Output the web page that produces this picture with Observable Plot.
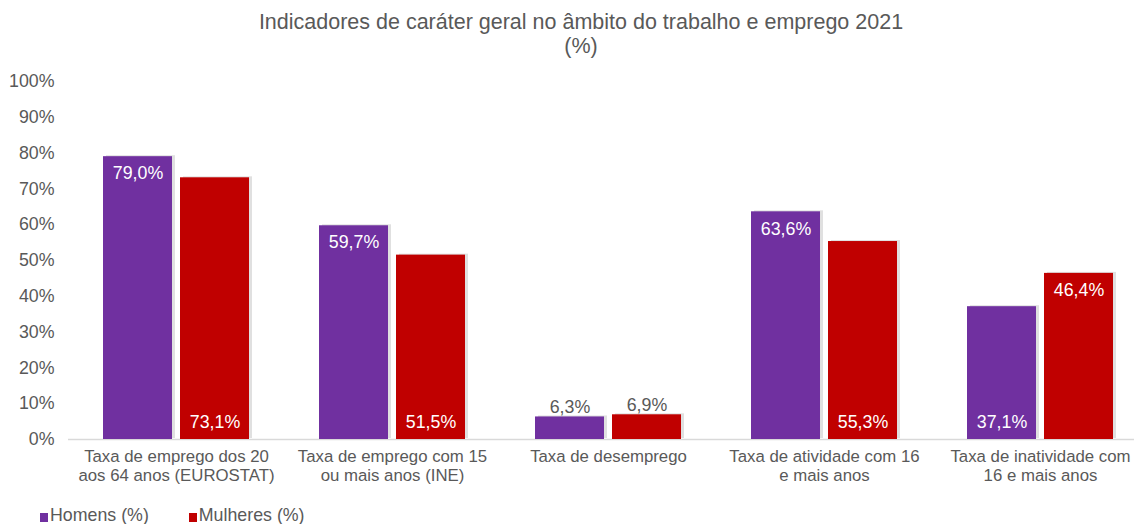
<!DOCTYPE html>
<html><head><meta charset="utf-8">
<script src="https://cdn.jsdelivr.net/npm/d3@7"></script>
<script src="https://cdn.jsdelivr.net/npm/@observablehq/plot@0.6"></script>
<style>
body{margin:0;background:#fff;font-family:"Liberation Sans",Arial,sans-serif;}
#wrap{position:relative;width:1134px;height:524px;overflow:hidden;background:#fff}
#title{height:62px;box-sizing:border-box;padding-top:10px;padding-left:28px;text-align:center;color:#595959;font-size:21.5px;line-height:24px}
#chart{height:440px}
#legend{height:22px;box-sizing:border-box;padding-left:40px;font-size:17.8px;line-height:26px;color:#595959;white-space:nowrap}
.item{display:inline-block;margin-right:40px}
.sw{display:inline-block;width:8px;height:9px;margin-right:2px;vertical-align:-1px}
</style>
</head><body>
<div id="wrap">
  <div id="title">Indicadores de caráter geral no âmbito do trabalho e emprego 2021<br>(%)</div>
  <div id="chart"></div>
  <div id="legend"></div>
</div>
<script>
const categories = [
  "Taxa de emprego dos 20\naos 64 anos (EUROSTAT)",
  "Taxa de emprego com 15\nou mais anos (INE)",
  "Taxa de desemprego",
  "Taxa de atividade com 16\ne mais anos",
  "Taxa de inatividade com\n16 e mais anos"
];
const series = ["Homens (%)", "Mulheres (%)"];
const homens = [79.0, 59.7, 6.3, 63.6, 37.1];
const mulheres = [73.1, 51.5, 6.9, 55.3, 46.4];
const yTicks = [0, 10, 20, 30, 40, 50, 60, 70, 80, 90, 100];
const colors = ["#7030A0", "#C00000"];

const rows = [];
categories.forEach((c, i) => {
  const vals = [homens[i], mulheres[i]];
  const maxV = Math.max(...vals);
  vals.forEach((v, j) => {
    rows.push({cat: c, serie: series[j], value: v,
      pos: v < 10 ? "above" : (v === maxV ? "top" : "base")});
  });
});
const fmt = d => d3.format(".1f")(d.value).replace(".", ",") + "%";

const font = '"Liberation Sans",Arial,sans-serif';
const fs = 17.8;
const catFs = 16.8;
const chart = Plot.plot({
  width: 1134,
  height: 440,
  marginLeft: 68,
  marginRight: -14,
  marginTop: 19,
  marginBottom: 63,
  style: {fontFamily: font, fontSize: fs + "px", color: "#595959", background: "transparent"},
  fx: {domain: categories, padding: 0, axis: null},
  x: {domain: series, paddingInner: 0.104, paddingOuter: 0.4545, axis: null},
  y: {domain: [0, 100], ticks: yTicks, tickFormat: d => d + "%", tickSize: 0, tickPadding: 14, label: null},
  color: {domain: series, range: colors},
  marks: [
    Plot.ruleY([0], {stroke: "#d9d9d9", strokeWidth: 1.5}),
    Plot.barY(rows, {fx: "cat", x: "serie", y: "value", fill: "#000", fillOpacity: 0.12, dx: 3, dy: -1}),
    Plot.barY(rows, {fx: "cat", x: "serie", y: "value", fill: "serie"}),
    Plot.text(rows.filter(d => d.pos === "top"), {fx: "cat", x: "serie", y: "value", text: fmt, dy: 17, fill: "#fff", fontSize: fs}),
    Plot.text(rows.filter(d => d.pos === "base"), {fx: "cat", x: "serie", y: 0, text: fmt, dy: -17, fill: "#fff", fontSize: fs}),
    Plot.text(rows.filter(d => d.pos === "above"), {fx: "cat", x: "serie", y: "value", text: fmt, dy: -10, fill: "#595959", fontSize: fs}),
    Plot.text(categories, {fx: d => d, text: d => d, frameAnchor: "bottom", lineAnchor: "top", dy: 9, lineHeight: 1.13, fill: "#595959", fontSize: catFs})
  ]
});
document.getElementById("chart").appendChild(chart);

const legend = document.getElementById("legend");
series.forEach((s, i) => {
  const it = document.createElement("span");
  it.className = "item";
  const sw = document.createElement("span");
  sw.className = "sw";
  sw.style.background = colors[i];
  it.appendChild(sw);
  it.appendChild(document.createTextNode(s));
  legend.appendChild(it);
});
</script>
</body></html>
